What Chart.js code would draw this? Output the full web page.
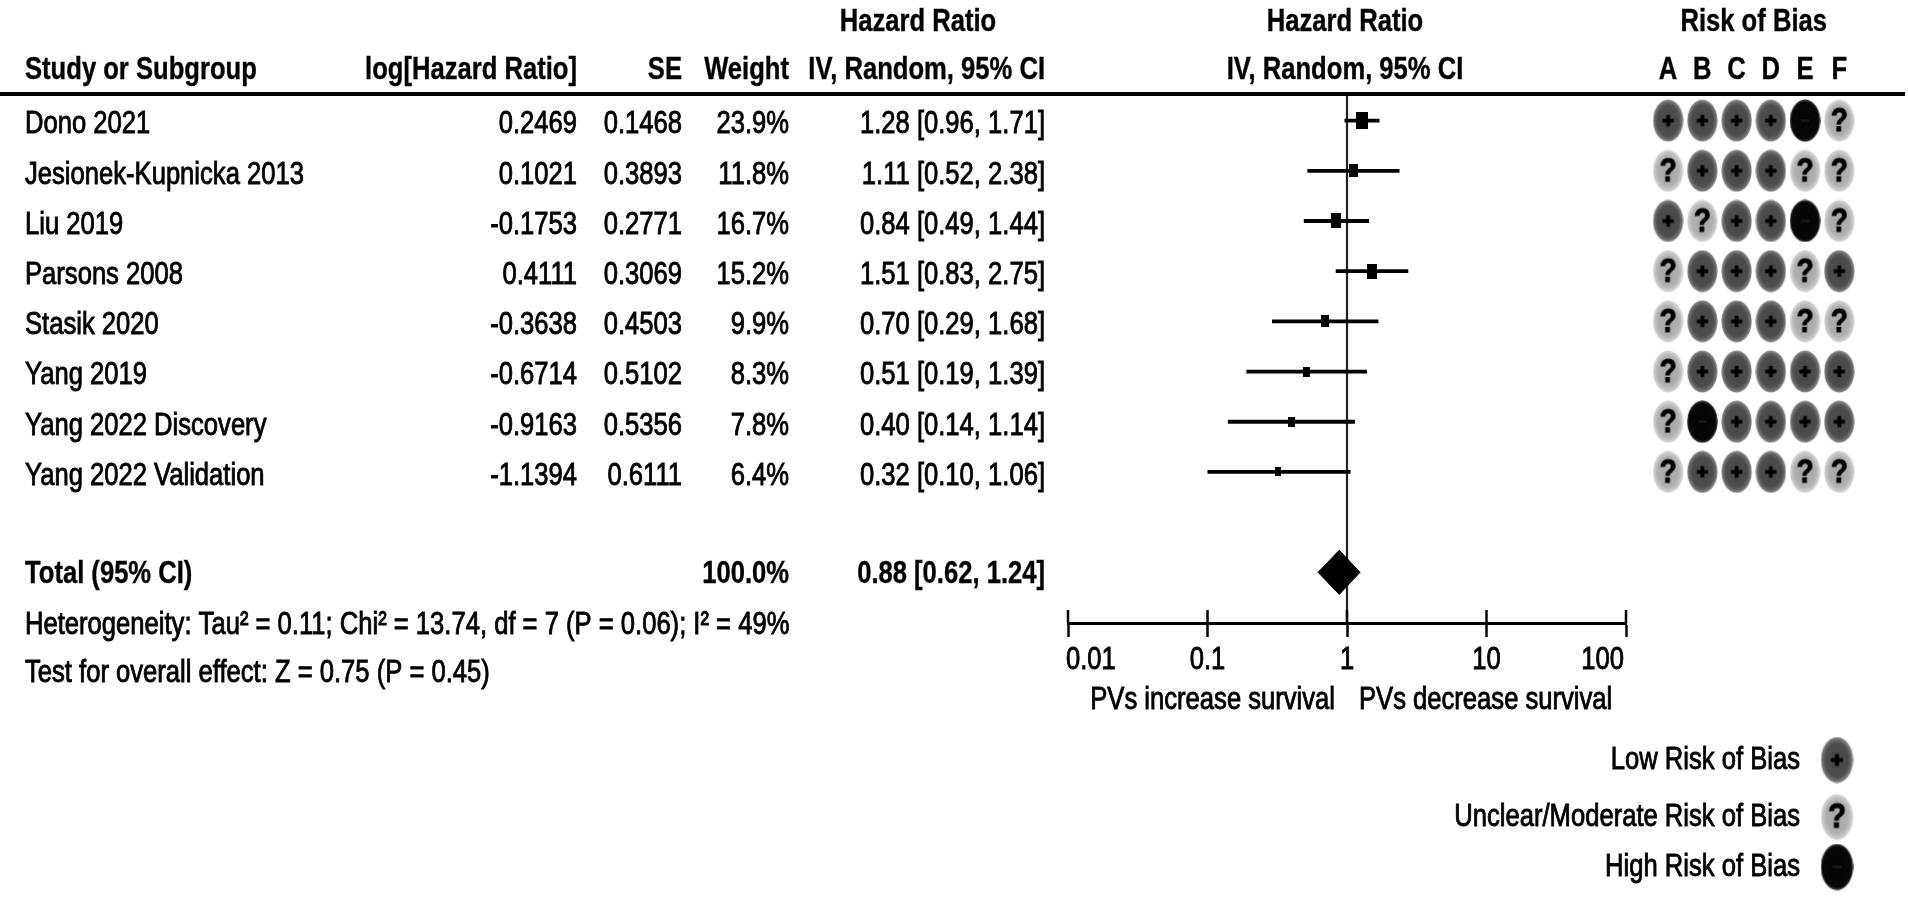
<!DOCTYPE html>
<html>
<head>
<meta charset="utf-8">
<script src="https://cdn.jsdelivr.net/npm/chart.js@4.4.1/dist/chart.umd.min.js"></script>
<style>
  html, body { margin: 0; padding: 0; background: #fff; }
  #wrap { position: relative; width: 1908px; height: 901px; }
  #main { position: absolute; left: 0; top: 0; width: 1908px; height: 901px; }
  #robBox { position: absolute; left: 1640px; top: 0; width: 268px; height: 901px; }
</style>
</head>
<body>
<div id="wrap">
  <div id="main"><canvas id="forest"></canvas></div>
  <div id="robBox"><canvas id="rob"></canvas></div>
</div>
<script>
// study data
var studies = ['Dono 2021', 'Jesionek-Kupnicka 2013', 'Liu 2019', 'Parsons 2008',
               'Stasik 2020', 'Yang 2019', 'Yang 2022 Discovery', 'Yang 2022 Validation'];
var logHR   = [0.2469, 0.1021, -0.1753, 0.4111, -0.3638, -0.6714, -0.9163, -1.1394];
var se      = [0.1468, 0.3893, 0.2771, 0.3069, 0.4503, 0.5102, 0.5356, 0.6111];
var weights = [23.9, 11.8, 16.7, 15.2, 9.9, 8.3, 7.8, 6.4];
var hr      = [1.28, 1.11, 0.84, 1.51, 0.70, 0.51, 0.40, 0.32];
var ciLow   = [0.96, 0.52, 0.49, 0.83, 0.29, 0.19, 0.14, 0.10];
var ciHigh  = [1.71, 2.38, 1.44, 2.75, 1.68, 1.39, 1.14, 1.06];

var totalHR = 0.88, totalLow = 0.62, totalHigh = 1.24, totalWeight = 100.0;

// risk of bias, columns A..F  (L = low, U = unclear, H = high)
var robCols = ['A', 'B', 'C', 'D', 'E', 'F'];
var rob = ['LLLLHU', 'ULLLUU', 'LULLHU', 'ULLLUL', 'ULLLUU', 'ULLLLL', 'UHLLLL', 'ULLLUU'];

var axisTicks  = [0.01, 0.1, 1, 10, 100];
var tickLabels = ['0.01', '0.1', '1', '10', '100'];

var heterogeneity = 'Heterogeneity: Tau\u00b2 = 0.11; Chi\u00b2 = 13.74, df = 7 (P = 0.06); I\u00b2 = 49%';
var overallTest = 'Test for overall effect: Z = 0.75 (P = 0.45)';
var leftLabel = 'PVs increase survival', rightLabel = 'PVs decrease survival';

var totalRow = 9;
var Y_MIN = -0.55, Y_MAX = 10.01;
var FONT = '"Liberation Sans", Arial, sans-serif';

function txt(ctx, s, x, y, align, bold, size) {
  ctx.save();
  ctx.font = (bold ? 'bold ' : '') + (size || 32) + 'px ' + FONT;
  ctx.fillStyle = '#000';
  ctx.strokeStyle = '#000';
  ctx.textBaseline = 'middle';
  ctx.textAlign = align;
  ctx.translate(x, y);
  ctx.scale(0.8, 1);
  ctx.fillText(s, 0, 0);
  // the scanned original looks heavier than a plain regular face
  ctx.lineWidth = bold ? 0.4 : 0.9;
  ctx.strokeText(s, 0, 0);
  ctx.restore();
}

function ciText(a, b, c) {
  return a.toFixed(2) + ' [' + b.toFixed(2) + ', ' + c.toFixed(2) + ']';
}

// black box, area grows with the weight (picture is stretched vertically)
function makeSquare(w) {
  var c = document.createElement('canvas');
  var bw = Math.round(2.5 * Math.sqrt(w));
  c.width = bw;
  c.height = Math.round(bw * 1.45);
  var g = c.getContext('2d');
  g.fillStyle = '#000';
  g.fillRect(0, 0, c.width, c.height);
  return c;
}

function makeMark(kind, w, h) {
  var c = document.createElement('canvas');
  c.width = w; c.height = h;
  var g = c.getContext('2d');
  var r = w / 2;
  g.save();
  g.translate(w / 2, h / 2);
  g.scale(1, h / w);
  var grad = g.createRadialGradient(0, 0, 0, 0, 0, r);
  if (kind === 'L') {
    grad.addColorStop(0, '#474747');
    grad.addColorStop(0.7, '#4d4d4d');
    grad.addColorStop(0.86, '#686868');
    grad.addColorStop(0.95, '#8a8a8a');
    grad.addColorStop(1, 'rgba(190,190,190,0.3)');
  } else if (kind === 'U') {
    grad.addColorStop(0, '#a6a6a6');
    grad.addColorStop(0.68, '#b0b0b0');
    grad.addColorStop(0.86, '#c6c6c6');
    grad.addColorStop(0.95, '#d6d6d6');
    grad.addColorStop(1, 'rgba(230,230,230,0.3)');
  } else {
    grad.addColorStop(0, '#030303');
    grad.addColorStop(0.86, '#070707');
    grad.addColorStop(0.96, '#333');
    grad.addColorStop(1, 'rgba(120,120,120,0.3)');
  }
  g.fillStyle = grad;
  g.beginPath();
  g.arc(0, 0, r, 0, Math.PI * 2);
  g.fill();
  g.restore();
  var s = w / 30;
  if (kind === 'L') {
    g.fillStyle = '#000';
    g.fillRect(w / 2 - 5.5 * s, h / 2 - 1.8 * s, 11 * s, 3.6 * s);
    g.fillRect(w / 2 - 1.8 * s, h / 2 - 5.5 * s, 3.6 * s, 11 * s);
  } else if (kind === 'U') {
    g.save();
    g.fillStyle = '#000';
    g.strokeStyle = '#000';
    g.lineWidth = 1;
    g.font = 'bold ' + Math.round(32 * s) + 'px ' + FONT;
    g.textAlign = 'center';
    g.textBaseline = 'middle';
    g.translate(w / 2, h / 2 + 1);
    g.scale(0.85, 1);
    g.fillText('?', 0, 0);
    g.strokeText('?', 0, 0);
    g.restore();
  } else {
    g.fillStyle = '#1a1a1a';
    g.fillRect(w / 2 - 4 * s, h / 2 - 1.2 * s, 8 * s, 2.4 * s);
  }
  return c;
}

var marks = { L: makeMark('L', 31, 43), U: makeMark('U', 31, 43), H: makeMark('H', 31, 43) };
var keyMarks = { L: makeMark('L', 33, 47), U: makeMark('U', 33, 47), H: makeMark('H', 33, 47) };

// ---------- forest plot ----------
var tablePlugin = {
  id: 'table',
  afterDraw: function (chart) {
    var ctx = chart.ctx;
    var ys = chart.scales.y, xs = chart.scales.x;
    var area = chart.chartArea;
    var xc = xs.getPixelForValue(1);

    // rule under the header
    ctx.save();
    ctx.fillStyle = '#000';
    ctx.fillRect(0, area.top - 1, 1905, 4);
    ctx.restore();

    // headers
    txt(ctx, 'Hazard Ratio', 918, 22, 'center', true);
    txt(ctx, 'Hazard Ratio', xc - 2, 22, 'center', true);
    txt(ctx, 'Study or Subgroup', 25, 70, 'left', true);
    txt(ctx, 'log[Hazard Ratio]', 577, 70, 'right', true);
    txt(ctx, 'SE', 682, 70, 'right', true);
    txt(ctx, 'Weight', 789, 70, 'right', true);
    txt(ctx, 'IV, Random, 95% CI', 1045, 70, 'right', true);
    txt(ctx, 'IV, Random, 95% CI', xc - 2, 70, 'center', true);

    // study rows
    studies.forEach(function (s, i) {
      var y = ys.getPixelForValue(i) + 4;
      txt(ctx, s, 25, y, 'left', false);
      txt(ctx, logHR[i].toFixed(4), 577, y, 'right', false);
      txt(ctx, se[i].toFixed(4), 682, y, 'right', false);
      txt(ctx, weights[i].toFixed(1) + '%', 789, y, 'right', false);
      txt(ctx, ciText(hr[i], ciLow[i], ciHigh[i]), 1045, y, 'right', false);
    });

    var yt = ys.getPixelForValue(totalRow) + 2;
    txt(ctx, 'Total (95% CI)', 25, yt, 'left', true);
    txt(ctx, totalWeight.toFixed(1) + '%', 789, yt, 'right', true);
    txt(ctx, ciText(totalHR, totalLow, totalHigh), 1045, yt, 'right', true);

    txt(ctx, heterogeneity, 25, 625, 'left', false);
    txt(ctx, overallTest, 25, 673, 'left', false);

    // upper half of the axis ticks
    ctx.save();
    ctx.strokeStyle = '#000';
    ctx.lineWidth = 2.5;
    xs.ticks.forEach(function (t) {
      var px = xs.getPixelForValue(t.value);
      ctx.beginPath();
      ctx.moveTo(px, area.bottom - 13);
      ctx.lineTo(px, area.bottom);
      ctx.stroke();
    });
    ctx.restore();

    // tick labels
    xs.ticks.forEach(function (t, i) {
      var px = xs.getPixelForValue(t.value);
      var al = i === 0 ? 'left' : (i === xs.ticks.length - 1 ? 'right' : 'center');
      if (al !== 'center') px -= 2;
      txt(ctx, tickLabels[i], px, area.bottom + 37, al, false);
    });

    txt(ctx, leftLabel, xc - 12, 700, 'right', false);
    txt(ctx, rightLabel, xc + 12, 700, 'left', false);

    // risk of bias key
    var keys = [['Low Risk of Bias', 'L', 760], ['Unclear/Moderate Risk of Bias', 'U', 817], ['High Risk of Bias', 'H', 867]];
    keys.forEach(function (k) {
      txt(ctx, k[0], 1800, k[2], 'right', false);
      var m = keyMarks[k[1]];
      ctx.drawImage(m, 1837 - m.width / 2, k[2] - m.height / 2);
    });
  }
};

var datasets = [];
datasets.push({
  type: 'scatter',
  data: studies.map(function (s, i) { return { x: hr[i], y: i }; }),
  pointStyle: weights.map(makeSquare),
  pointRadius: 8,
  order: 0
});
studies.forEach(function (s, i) {
  datasets.push({
    type: 'line',
    data: [{ x: ciLow[i], y: i }, { x: ciHigh[i], y: i }],
    borderColor: '#000',
    borderWidth: 3.8,
    pointRadius: 0,
    fill: false,
    order: 1
  });
});
datasets.push({
  type: 'line',
  data: [{ x: totalLow, y: totalRow }, { x: totalHR, y: totalRow - 0.44 },
         { x: totalHigh, y: totalRow }, { x: totalHR, y: totalRow + 0.44 },
         { x: totalLow, y: totalRow }],
  borderColor: '#000',
  backgroundColor: '#000',
  borderWidth: 1,
  pointRadius: 0,
  fill: 'shape',
  order: 1
});
datasets.push({
  type: 'line',
  data: [{ x: 1, y: Y_MIN }, { x: 1, y: Y_MAX }],
  borderColor: '#222',
  borderWidth: 2.2,
  pointRadius: 0,
  fill: false,
  order: 2
});

new Chart(document.getElementById('forest').getContext('2d'), {
  type: 'scatter',
  data: { datasets: datasets },
  options: {
    responsive: true,
    maintainAspectRatio: false,
    devicePixelRatio: 1,
    animation: false,
    events: [],
    layout: { padding: { left: 1068, right: 282, top: 93, bottom: 218 } },
    plugins: { legend: { display: false }, tooltip: { enabled: false } },
    scales: {
      x: {
        type: 'logarithmic',
        min: 0.01,
        max: 100,
        afterBuildTicks: function (scale) {
          scale.ticks = axisTicks.map(function (v) { return { value: v }; });
        },
        afterFit: function (scale) { scale.height = 60; },
        ticks: { display: false },
        grid: { display: true, drawOnChartArea: false, drawTicks: true, tickLength: 14, tickWidth: 2.5, tickColor: '#000' },
        border: { display: true, color: '#000', width: 3 }
      },
      y: { type: 'linear', display: false, reverse: true, min: Y_MIN, max: Y_MAX }
    }
  },
  plugins: [tablePlugin]
});

// ---------- risk of bias grid ----------
var robPlugin = {
  id: 'robHead',
  afterDraw: function (chart) {
    var ctx = chart.ctx, xs = chart.scales.x;
    robCols.forEach(function (c, j) {
      txt(ctx, c, xs.getPixelForValue(j), 70, 'center', true);
    });
    var mid = (xs.getPixelForValue(0) + xs.getPixelForValue(robCols.length - 1)) / 2;
    txt(ctx, 'Risk of Bias', mid, 22, 'center', true);
  }
};

var robSets = ['L', 'U', 'H'].map(function (k) {
  var pts = [];
  rob.forEach(function (row, i) {
    row.split('').forEach(function (v, j) {
      if (v === k) pts.push({ x: j, y: i });
    });
  });
  return { data: pts, pointStyle: marks[k], pointRadius: 10 };
});

new Chart(document.getElementById('rob').getContext('2d'), {
  type: 'scatter',
  data: { datasets: robSets },
  options: {
    responsive: true,
    maintainAspectRatio: false,
    devicePixelRatio: 1,
    animation: false,
    events: [],
    layout: { padding: { left: 7.6, right: 51.6, top: 93, bottom: 278 } },
    plugins: { legend: { display: false }, tooltip: { enabled: false } },
    scales: {
      x: { type: 'linear', display: false, min: -0.5, max: 5.5 },
      y: { type: 'linear', display: false, reverse: true, min: Y_MIN, max: Y_MAX }
    }
  },
  plugins: [robPlugin]
});
</script>
</body>
</html>
